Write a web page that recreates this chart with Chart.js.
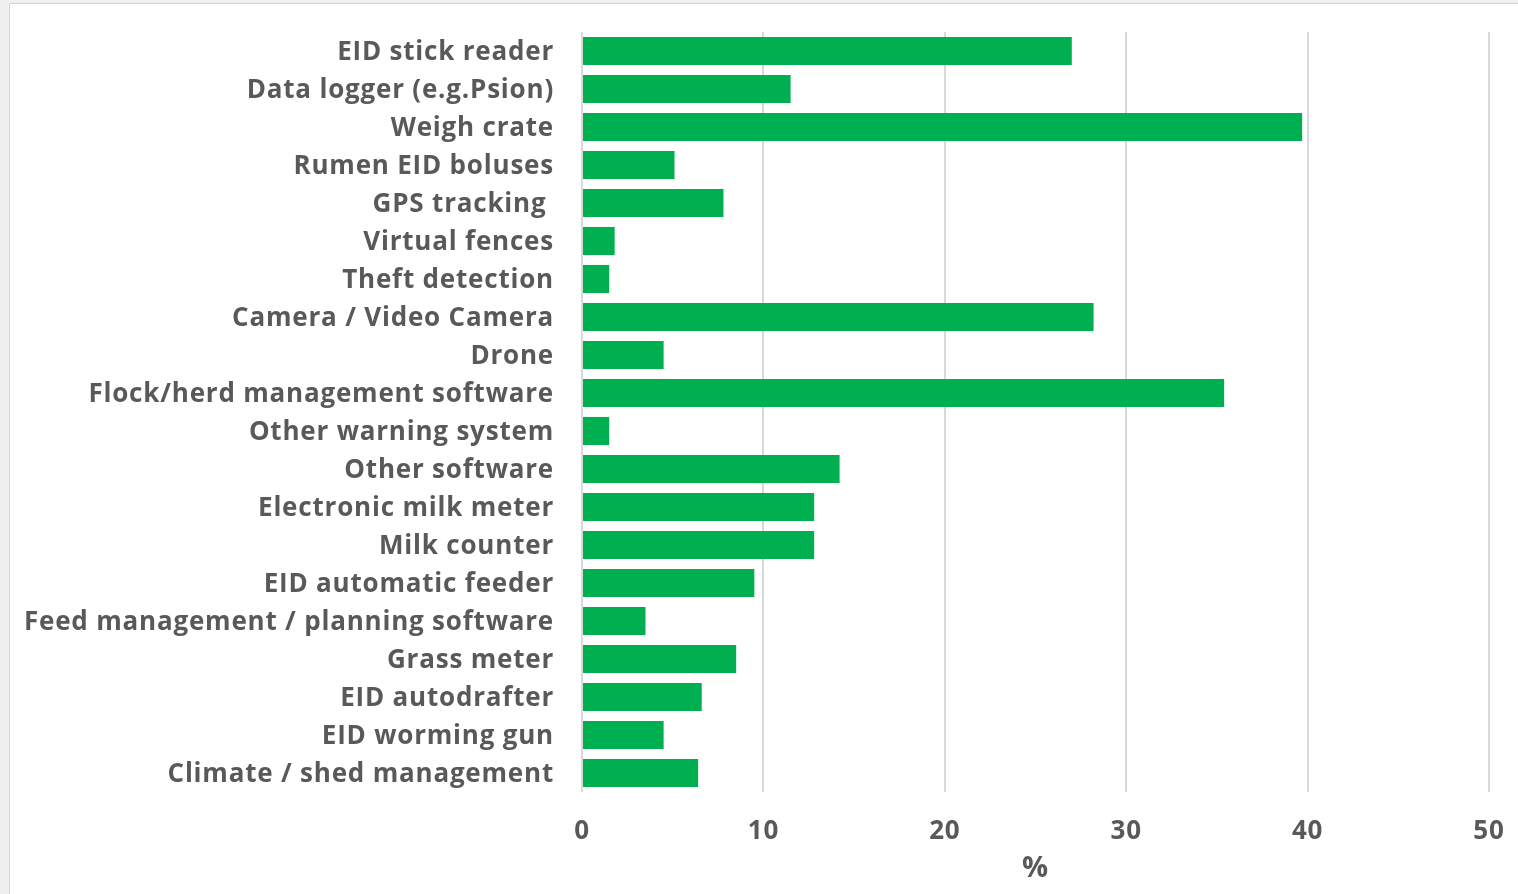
<!DOCTYPE html>
<html>
<head>
<meta charset="utf-8">
<script src="https://cdn.jsdelivr.net/npm/chart.js@4/dist/chart.umd.min.js"></script>
<style>
    html, body { margin: 0; padding: 0; background: #f0f0f0; }
    #frame {
        position: absolute; left: 9px; top: 3px; width: 1509px; height: 891px;
        background: #ffffff; border-left: 1px solid #d4d4d4; border-top: 1px solid #d4d4d4;
    }
    #wrap { position: absolute; left: 0; top: 0; width: 1518px; height: 894px; }
</style>
</head>
<body>
<div id="frame"></div>
<div id="wrap"><canvas id="techChart" width="1518" height="894"></canvas></div>
<script>
    var categories = [
        'EID stick reader',
        'Data logger (e.g.Psion)',
        'Weigh crate',
        'Rumen EID boluses',
        'GPS tracking ',
        'Virtual fences',
        'Theft detection',
        'Camera / Video Camera',
        'Drone',
        'Flock/herd management software',
        'Other warning system',
        'Other software',
        'Electronic milk meter',
        'Milk counter',
        'EID automatic feeder',
        'Feed management / planning software',
        'Grass meter',
        'EID autodrafter',
        'EID worming gun',
        'Climate / shed management'
    ];
    var percentValues = [27, 11.5, 39.7, 5.1, 7.8, 1.8, 1.5, 28.2, 4.5, 35.4, 1.5, 14.2, 12.8, 12.8, 9.5, 3.5, 8.5, 6.6, 4.5, 6.4];
    var xTicks = [0, 10, 20, 30, 40, 50];

    var labelColor = '#595959';
    var gridColor = '#d9d9d9';

    var ctx = document.getElementById('techChart');

    // a little extra tracking, closer to the original font
    var spacingPlugin = {
        id: 'spacing',
        beforeUpdate: function(chart) { chart.ctx.letterSpacing = '0.8px'; },
        beforeDraw: function(chart) { chart.ctx.letterSpacing = '0.8px'; }
    };

    var data = {
        labels: categories,
        datasets: [
            {
                data: percentValues,
                backgroundColor: '#00b050',
                borderWidth: 0,
                categoryPercentage: 0.74,
                barPercentage: 1
            }
        ]
    };

    var options = {
        indexAxis: 'y',
        responsive: false,
        animation: false,
        layout: {
            padding: { top: 32, right: 29, bottom: 8, left: 0 }
        },
        plugins: {
            legend: { display: false },
            tooltip: { enabled: false }
        },
        scales: {
            x: {
                min: xTicks[0],
                max: xTicks[xTicks.length - 1],
                afterBuildTicks: function(scale) {
                    scale.ticks = xTicks.map(function(v) { return { value: v }; });
                },
                afterFit: function(scale) {
                    scale.height = 94;
                    scale.paddingLeft = 0;
                    scale.paddingRight = 0;
                },
                border: { display: false },
                grid: { color: gridColor, lineWidth: 2, drawTicks: false },
                ticks: {
                    color: labelColor,
                    padding: 24,
                    font: { family: 'Open Sans', size: 26, weight: '700' }
                },
                title: {
                    display: true,
                    text: '%',
                    color: labelColor,
                    padding: { top: 0, bottom: 0 },
                    font: { family: 'Open Sans', size: 29, weight: '700' }
                }
            },
            y: {
                afterFit: function(scale) {
                    scale.width = 582;
                    scale.paddingTop = 0;
                    scale.paddingBottom = 0;
                },
                border: { display: false },
                grid: { display: false, drawTicks: false },
                ticks: {
                    color: labelColor,
                    padding: 28,
                    labelOffset: 2,
                    autoSkip: false,
                    font: { family: 'Open Sans', size: 26, weight: '700' }
                }
            }
        }
    };

    var techChart = new Chart(ctx, {
        type: 'bar',
        data: data,
        options: options,
        plugins: [spacingPlugin]
    });
</script>
</body>
</html>
